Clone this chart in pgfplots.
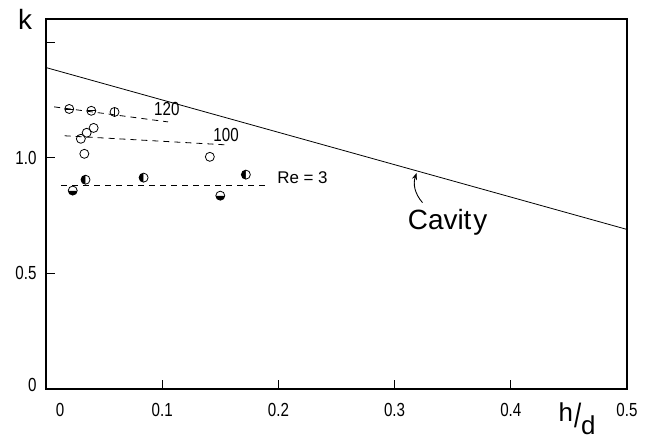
\documentclass[border=0pt]{standalone}
\usepackage{pgfplots}
\pgfplotsset{compat=1.18}
\usepackage{fontspec}
\setmainfont{Liberation Sans}
\newfontfamily\narrowfont{Liberation Sans}[FakeStretch=0.8]
\usetikzlibrary{arrows.meta}
\begin{document}
\begin{tikzpicture}
\useasboundingbox (-46bp,-54bp) rectangle (605bp,389bp);
\begin{axis}[
  at={(0,0)}, anchor=south west,
  width=581bp, height=370bp, scale only axis,
  xmin=0, xmax=0.5, ymin=0, ymax=1.6,
  axis line style={line width=1.2bp},
  xtick={0,0.1,0.2,0.3,0.4,0.5},
  xticklabels={\hspace*{28bp}0,0.1,0.2,0.3,0.4,0.5},
  ytick={0,0.5,1.0,1.5},
  yticklabels={\raisebox{9bp}{0},0.5,1.0,},
  tick align=inside, xtick pos=left, ytick pos=left,
  major tick length=9bp,
  tick style={line width=1bp, black},
  /pgf/number format/assume math mode=true,
  tick label style={font=\narrowfont\fontsize{19}{21}\selectfont},
  xticklabel style={yshift=-11bp},
  yticklabel style={xshift=-6bp},
  clip=false,
]
% Cavity line
\addplot[black, line width=0.8bp] coordinates {(0,1.39) (0.5,0.69)};
% dashed reference lines
\addplot[black, dash pattern=on 6bp off 5bp, line width=0.8bp] coordinates {(0.007,1.22) (0.105,1.155)};
\addplot[black, dash pattern=on 6bp off 5bp, line width=0.8bp] coordinates {(0.016,1.095) (0.154,1.056)};
\addplot[black, dash pattern=on 6bp off 5bp, line width=0.8bp] coordinates {(0.013,0.88) (0.191,0.88)};
% Re = 100 open circles
\addplot[only marks, mark=o, mark size=4.5bp, mark options={black, line width=0.8bp, fill=white}] coordinates {(0.030,1.082) (0.035,1.108) (0.041,1.129) (0.033,1.017) (0.141,1.004)};
% Re = 120
\addplot[only marks, mark=o, mark size=4.5bp, mark options={black, line width=0.8bp, fill=white}] coordinates {(0.020,1.211) (0.039,1.203) (0.059,1.198)};
\addplot[only marks, mark=-, mark size=4.5bp, mark options={black, line width=0.8bp}] coordinates {(0.020,1.211) (0.039,1.203)};
\addplot[only marks, mark=|, mark size=4.5bp, mark options={black, line width=0.8bp}] coordinates {(0.059,1.198)};
% Re = 3
\addplot[only marks, mark=halfcircle*, mark size=4.5bp, mark options={black, line width=0.8bp, fill=black, rotate=90}] coordinates {(0.034,0.905) (0.084,0.914) (0.172,0.927)};
\addplot[only marks, mark=halfcircle*, mark size=4.5bp, mark options={black, line width=0.8bp, fill=black, rotate=180}] coordinates {(0.023,0.858) (0.150,0.836)};
% annotations
\node at (axis cs:0.104,1.213) {\narrowfont\fontsize{19}{19}\selectfont 120};
\node at (axis cs:0.155,1.098) {\narrowfont\fontsize{19}{19}\selectfont 100};
\node[anchor=west] at (axis cs:0.196,0.914) {\fontsize{17}{17}\selectfont Re = 3};
\node at (axis cs:0.3457,0.72) {\fontsize{28}{28}\selectfont Cavit\kern2bp y};
\draw[-{Stealth[length=7bp,width=5bp]}, line width=0.9bp] (axis cs:0.324,0.806) to[bend left=30] (axis cs:0.319,0.935);
\node at (axis cs:-0.018,1.599) {\fontsize{28}{28}\selectfont k};
\node[anchor=base west, inner sep=0pt] at (axis cs:0.441,-0.142) {\fontsize{26}{26}\selectfont h\kern1bp\raisebox{-6bp}{\scalebox{1}[1.3]{/}}\kern0bp\raisebox{-13bp}{d}};
\end{axis}
\end{tikzpicture}
\end{document}
